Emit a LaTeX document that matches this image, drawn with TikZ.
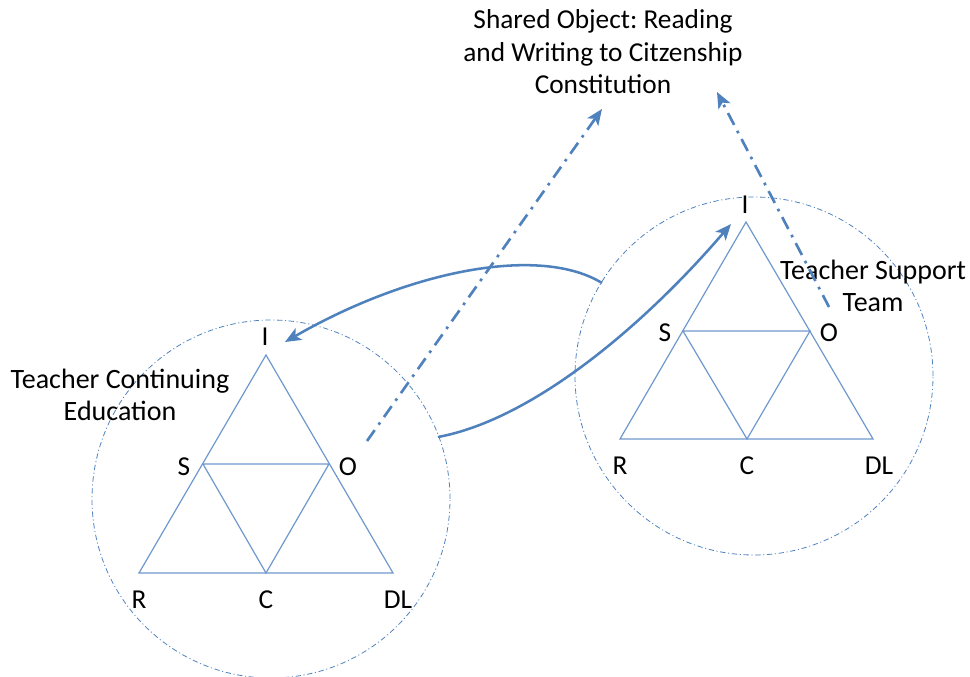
\documentclass[tikz,border=0pt]{standalone}
\usepackage{fontspec}
\setmainfont{Carlito}
\usetikzlibrary{arrows.meta}
\definecolor{ablue}{RGB}{79,129,189}
\definecolor{tblue}{RGB}{110,152,205}
\frenchspacing
\tikzset{
  lbl/.style={inner sep=0pt, font=\fontsize{20.5}{24.4}\selectfont, text=black},
  tri/.style={draw=tblue, line width=0.9pt, line join=miter},
  ring/.style={draw=ablue, line width=0.6pt, dash pattern=on 4pt off 2pt on 0.8pt off 2pt},
  link/.style={draw=ablue, line width=1.9pt, -{Stealth[length=12pt,width=10pt,inset=3pt]}},
  objlink/.style={draw=ablue, line width=2pt, dash pattern=on 10pt off 5pt on 2pt off 5pt, -{Stealth[length=12pt,width=10pt,inset=3pt]}}
}
\begin{document}
\begin{tikzpicture}[x=0.75pt,y=-0.75pt]
\useasboundingbox (0,0) rectangle (970,677);
% circles
\node[ring, circle, minimum size=358*0.75pt, inner sep=0pt] (cl) at (271,499) {};
\node[ring, circle, minimum size=358*0.75pt, inner sep=0pt] (cr) at (754,376) {};
% left triangle
\coordinate (lI) at (266,355);
\coordinate (lS) at (203,464);
\coordinate (lO) at (329,464);
\coordinate (lR) at (139,573);
\coordinate (lC) at (266,573);
\coordinate (lD) at (393,573);
\draw[tri] (lI) -- (lR) -- (lD) -- cycle;
\draw[tri] (lS) -- (lO) -- (lC) -- cycle;
% right triangle
\coordinate (rI) at (746,222);
\coordinate (rS) at (683,331);
\coordinate (rO) at (810,331);
\coordinate (rR) at (620,439);
\coordinate (rC) at (747,439);
\coordinate (rD) at (873,439);
\draw[tri] (rI) -- (rR) -- (rD) -- cycle;
\draw[tri] (rS) -- (rO) -- (rC) -- cycle;
% labels left
\node[lbl] (tlI) at (265,337) {I};
\node[lbl] (tlS) at (184,467) {S};
\node[lbl] (tlO) at (348,467) {O};
\node[lbl] (tlR) at (139,600) {R};
\node[lbl] (tlC) at (266,600) {C};
\node[lbl] (tlD) at (398,600) {DL};
% labels right
\node[lbl] (trI) at (745,205) {I};
\node[lbl] (trS) at (665,333) {S};
\node[lbl] (trO) at (829,333) {O};
\node[lbl] (trR) at (620,466) {R};
\node[lbl] (trC) at (747,466) {C};
\node[lbl] (trD) at (879,466) {DL};
% titles
\node[lbl, align=center, font=\fontsize{21}{24.4}\selectfont] (tce) at (120,395) {Teacher Continuing\\Education};
\node[lbl, align=center, font=\fontsize{21}{24.4}\selectfont] (tst) at (873,286) {Teacher Support\\Team};
\node[lbl, align=center] (obj) at (603,52) {Shared Object: Reading\\and Writing to Citzenship\\Constitution};
% connector ends
\coordinate (aS) at (602,283);
\coordinate (aE) at (285,342);
\coordinate (bS) at (438,437);
\coordinate (bE) at (731,224);
\coordinate (dlS) at (367,441);
\coordinate (dlE) at (602,109);
\coordinate (drS) at (829,307);
\coordinate (drE) at (717,92);
% connectors
\draw[link] (aS) .. controls (540,245) and (410,270) .. (aE);
\draw[link] (bS) .. controls (530,420) and (640,330) .. (bE);
\draw[objlink] (dlS) -- (dlE);
\draw[objlink] (drS) -- (drE);
\end{tikzpicture}
\end{document}
